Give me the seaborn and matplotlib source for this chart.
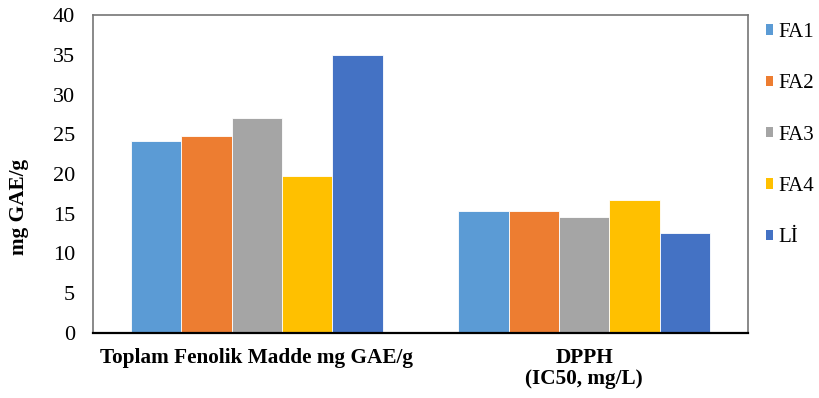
import matplotlib
matplotlib.use("Agg")
import matplotlib.pyplot as plt
import seaborn as sns
import pandas as pd
from matplotlib.patches import Patch

categories = ["Toplam Fenolik Madde mg GAE/g", "DPPH\n(IC50, mg/L)"]
series = ["FA1", "FA2", "FA3", "FA4", "Lİ"]
values = {
    "FA1": [24.15, 15.3],
    "FA2": [24.75, 15.4],
    "FA3": [27.05, 14.55],
    "FA4": [19.8, 16.75],
    "Lİ": [34.95, 12.6],
}
colors = ["#5B9BD5", "#ED7D31", "#A5A5A5", "#FFC000", "#4472C4"]
yticks = [0, 5, 10, 15, 20, 25, 30, 35, 40]

rows = []
for s in series:
    for c, v in zip(categories, values[s]):
        rows.append({"cat": c, "series": s, "val": v})
df = pd.DataFrame(rows)

sns.set_theme(style="white")
plt.rcParams["font.family"] = ["Liberation Serif", "DejaVu Serif"]
plt.rcParams["text.color"] = "black"
plt.rcParams["axes.labelcolor"] = "black"
plt.rcParams["xtick.color"] = "black"
plt.rcParams["ytick.color"] = "black"

fig = plt.figure(figsize=(8.19, 3.98), dpi=100)
ax = fig.add_axes([93/819, 65/398, 655/819, 318/398])

sns.barplot(data=df, x="cat", y="val", hue="series", hue_order=series,
            order=categories, palette=colors, width=0.768, gap=0,
            edgecolor="white", linewidth=0.6, saturation=1, ax=ax, legend=False)

ax.set_ylim(0, 40)
ax.set_xlim(-0.5, 1.5)
ax.set_yticks(yticks)
ax.set_yticklabels([str(t) for t in yticks], fontsize=16)
ax.tick_params(axis="y", length=0, pad=13, labelcolor="black")
ax.tick_params(axis="x", length=0, pad=11, labelcolor="black")
for lbl in ax.get_xticklabels():
    lbl.set_fontweight("bold")
    lbl.set_fontsize(15.3)
    lbl.set_linespacing(1.05)
ax.set_xlabel("")
ax.set_ylabel("mg GAE/g", fontsize=15.3, fontweight="bold", color="black")
ax.yaxis.set_label_coords(-0.098, 0.396)

for side in ["left", "top", "right"]:
    ax.spines[side].set_visible(True)
    ax.spines[side].set_color("#767676")
    ax.spines[side].set_linewidth(1.2)
ax.spines["bottom"].set_color("#000000")
ax.spines["bottom"].set_linewidth(1.6)

handles = [Patch(facecolor=c, edgecolor="none") for c in colors]
leg = ax.legend(handles, series, loc="upper left", bbox_to_anchor=(1.014, 1.001),
                frameon=False, fontsize=15, handlelength=0.38, handleheight=0.38,
                handletextpad=0.25, labelspacing=1.55, borderaxespad=0,
                labelcolor="black")

fig.savefig("out.png", dpi=100)
